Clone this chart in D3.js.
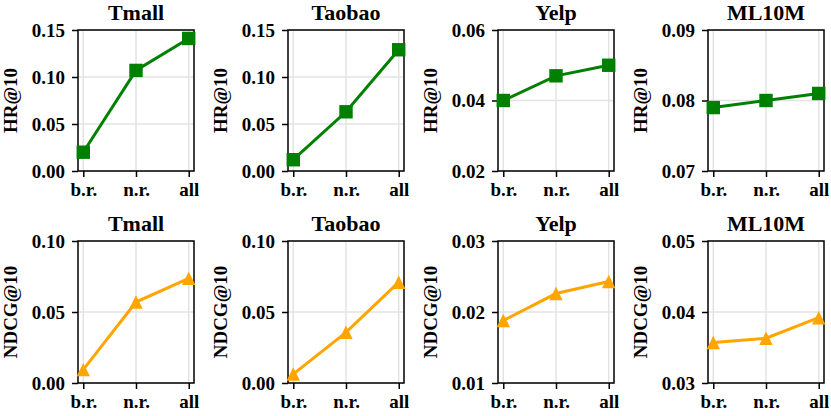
<!DOCTYPE html>
<html>
<head>
<meta charset="utf-8">
<script src="https://cdn.jsdelivr.net/npm/d3@7"></script>
<style>
  body { margin: 0; background: #fff; }
  text { font-family: "Liberation Serif", "Times New Roman", serif; font-weight: bold; fill: #000; }
</style>
</head>
<body>
<div id="vis"></div>
<script>
const FRAME_WIDTH = 831;
const FRAME_HEIGHT = 416;

// data
const DATASETS = ["Tmall", "Taobao", "Yelp", "ML10M"];
const CATEGORIES = ["b.r.", "n.r.", "all"];

const HR_TMALL = [0.020, 0.107, 0.141];
const HR_TAOBAO = [0.012, 0.063, 0.129];
const HR_YELP = [0.040, 0.047, 0.050];
const HR_ML10M = [0.079, 0.080, 0.081];

const NDCG_TMALL = [0.0094, 0.057, 0.0737];
const NDCG_TAOBAO = [0.0063, 0.0357, 0.071];
const NDCG_YELP = [0.0188, 0.0226, 0.0243];
const NDCG_ML10M = [0.0357, 0.0363, 0.0392];

const HR_TICKS = [[0, 0.05, 0.10, 0.15], [0, 0.05, 0.10, 0.15], [0.02, 0.04, 0.06], [0.07, 0.08, 0.09]];
const NDCG_TICKS = [[0, 0.05, 0.10], [0, 0.05, 0.10], [0.01, 0.02, 0.03], [0.03, 0.04, 0.05]];

// matplotlib-like "^" marker: width == height, centred on its box
const triangleUp = {
  draw(context, size) {
    const h = Math.sqrt(size) / 2;
    context.moveTo(0, -h);
    context.lineTo(h, h);
    context.lineTo(-h, h);
    context.closePath();
  }
};

const ROWS = [
  {label: "HR@10", values: [HR_TMALL, HR_TAOBAO, HR_YELP, HR_ML10M], ticks: HR_TICKS,
   color: "#008000", symbol: d3.symbolSquare, size: 180, top: 30, bottom: 171},
  {label: "NDCG@10", values: [NDCG_TMALL, NDCG_TAOBAO, NDCG_YELP, NDCG_ML10M], ticks: NDCG_TICKS,
   color: "#ffa500", symbol: triangleUp, size: 180, top: 241, bottom: 383}
];

const PANEL_LEFT = [78, 288, 498, 708];
const PANEL_WIDTH = 116;

const svg = d3.select("#vis")
              .append("svg")
              .attr("width", FRAME_WIDTH)
              .attr("height", FRAME_HEIGHT);

ROWS.forEach((row) => {
  DATASETS.forEach((name, i) => {
    const left = PANEL_LEFT[i];
    const right = left + PANEL_WIDTH;
    const ticks = row.ticks[i];

    const X_SCALE = d3.scaleLinear()
                      .domain([-0.1, 2.1])
                      .range([left, right]);

    const Y_SCALE = d3.scaleLinear()
                      .domain([ticks[0], ticks[ticks.length - 1]])
                      .range([row.bottom, row.top]);

    const g = svg.append("g");

    // grid
    g.selectAll(".hgrid")
      .data(ticks)
      .enter()
      .append("line")
        .attr("x1", left).attr("x2", right)
        .attr("y1", (d) => Y_SCALE(d)).attr("y2", (d) => Y_SCALE(d))
        .attr("stroke", "#e3e3e3")
        .attr("stroke-width", 1.5);

    g.selectAll(".vgrid")
      .data(CATEGORIES)
      .enter()
      .append("line")
        .attr("x1", (d, j) => X_SCALE(j)).attr("x2", (d, j) => X_SCALE(j))
        .attr("y1", row.top).attr("y2", row.bottom)
        .attr("stroke", "#e3e3e3")
        .attr("stroke-width", 1.5);

    // axes
    const yAxis = g.append("g")
      .attr("transform", "translate(" + left + ",0)")
      .call(d3.axisLeft(Y_SCALE).tickValues(ticks)
              .tickFormat(d3.format(".2f")).tickSize(6).tickPadding(7));

    const xAxis = g.append("g")
      .attr("transform", "translate(0," + row.bottom + ")")
      .call(d3.axisBottom(X_SCALE).tickValues([0, 1, 2])
              .tickFormat((d) => CATEGORIES[d]).tickSize(6).tickPadding(5));

    [yAxis, xAxis].forEach((ax) => {
      ax.select(".domain").remove();
      ax.selectAll("line").attr("stroke", "#000").attr("stroke-width", 1.5);
      ax.selectAll("text")
        .attr("font-size", "19px")
        .attr("font-family", "Liberation Serif, serif")
        .attr("font-weight", "bold")
        .attr("fill", "#000");
    });
    yAxis.selectAll("text").attr("dy", "0.34em");
    xAxis.selectAll("text").attr("dy", "0.72em");

    // frame
    g.append("rect")
      .attr("x", left).attr("y", row.top)
      .attr("width", PANEL_WIDTH).attr("height", row.bottom - row.top)
      .attr("fill", "none")
      .attr("stroke", "#000")
      .attr("stroke-width", 1.5);

    // line + markers
    const vals = row.values[i];
    g.append("path")
      .datum(vals)
      .attr("d", d3.line().x((d, j) => X_SCALE(j)).y((d) => Y_SCALE(d)))
      .attr("fill", "none")
      .attr("stroke", row.color)
      .attr("stroke-width", 3);

    g.selectAll(".mark")
      .data(vals)
      .enter()
      .append("path")
        .attr("transform", (d, j) => "translate(" + X_SCALE(j) + "," + Y_SCALE(d) + ")")
        .attr("d", d3.symbol().type(row.symbol).size(row.size))
        .attr("fill", row.color);

    // title
    g.append("text")
      .attr("x", (left + right) / 2)
      .attr("y", row.top - 10)
      .attr("text-anchor", "middle")
      .attr("font-size", "22px")
      .text(name);

    // y label
    g.append("text")
      .attr("transform", "translate(" + (left - 61) + "," + ((row.top + row.bottom) / 2) + ") rotate(-90)")
      .attr("text-anchor", "middle")
      .attr("font-size", "19px")
      .text(row.label);
  });
});
</script>
</body>
</html>
